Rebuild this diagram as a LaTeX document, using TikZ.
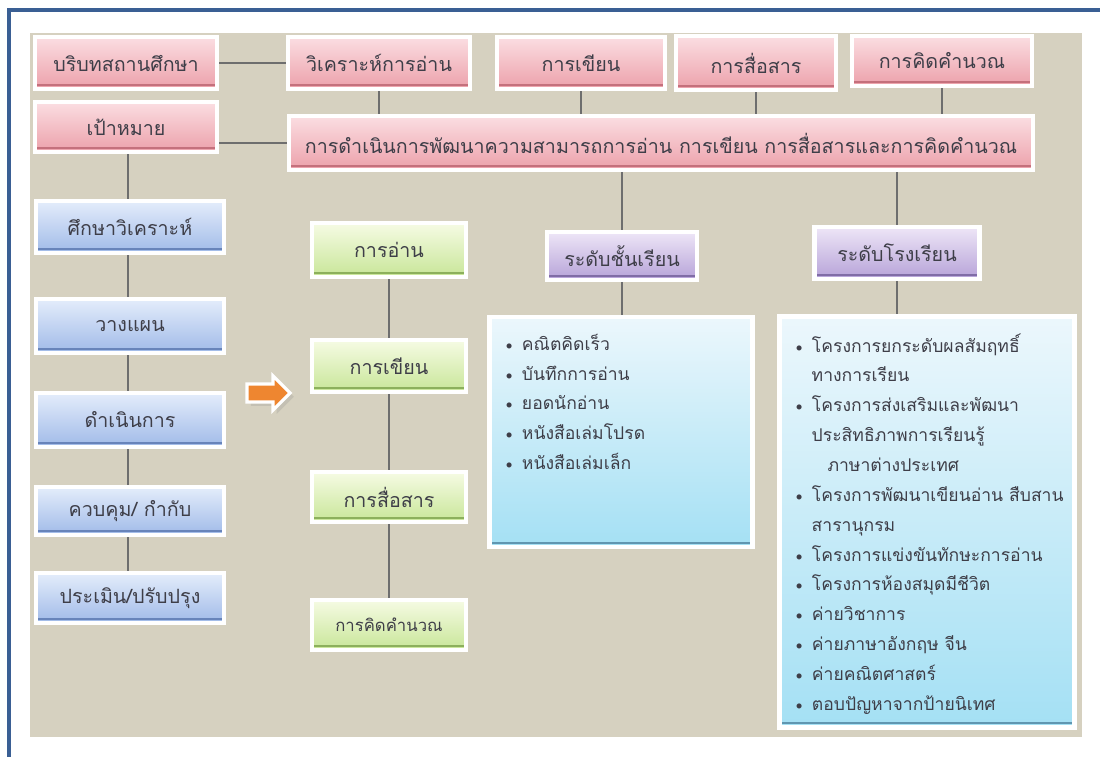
\documentclass[tikz,border=0pt]{standalone}
\usepackage{fontspec}
\newfontfamily\thaifont[Script=Thai]{Loma}
\usetikzlibrary{backgrounds,shadows,shapes.arrows,positioning}

\definecolor{pinkT}{RGB}{251,222,226}
\definecolor{pinkB}{RGB}{236,160,170}
\definecolor{pinkE}{RGB}{196,112,124}
\definecolor{blueT}{RGB}{228,237,251}
\definecolor{blueB}{RGB}{160,186,232}
\definecolor{blueE}{RGB}{104,132,186}
\definecolor{greenT}{RGB}{246,251,228}
\definecolor{greenB}{RGB}{200,230,152}
\definecolor{greenE}{RGB}{140,176,92}
\definecolor{purpT}{RGB}{238,230,247}
\definecolor{purpB}{RGB}{182,162,216}
\definecolor{purpE}{RGB}{128,108,166}
\definecolor{cyanT}{RGB}{236,247,252}
\definecolor{cyanB}{RGB}{164,224,244}
\definecolor{cyanE}{RGB}{96,150,176}
\definecolor{beige}{RGB}{214,209,192}
\definecolor{frameblue}{RGB}{58,95,148}
\definecolor{txtgray}{RGB}{62,62,72}
\definecolor{linkgray}{RGB}{110,110,110}
\definecolor{arrowor}{RGB}{238,134,48}

\newcommand\itm{{\rmfamily\textbullet}\ }

\begin{document}
\begin{tikzpicture}[x=0.02cm, y=-0.02cm,
    sz/.style 2 args={minimum width=#1*0.02cm, minimum height=#2*0.02cm},
    box/.style={draw=white, line width=2.8pt, inner sep=2pt, text=txtgray,
    font=\thaifont\fontsize{11.2}{13}\selectfont,
    drop shadow={opacity=0.3, shadow xshift=0.7pt, shadow yshift=-1pt}},
    edge/.style={path picture={\draw[#1, line width=1.2pt]
    ([yshift=2.4pt]path picture bounding box.south west) -- ([yshift=2.4pt]path picture bounding box.south east);}},
    pinkbox/.style={box, top color=pinkT, bottom color=pinkB, edge=pinkE},
    bluebox/.style={box, top color=blueT, bottom color=blueB, edge=blueE},
    greenbox/.style={box, top color=greenT, bottom color=greenB, edge=greenE},
    purpbox/.style={box, top color=purpT, bottom color=purpB, edge=purpE},
    cyanbox/.style={box, top color=cyanT, bottom color=cyanB, edge=cyanE},
    listtxt/.style={font=\thaifont\fontsize{10}{17}\selectfont, text=txtgray,
    align=left, inner sep=0pt, anchor=north west},
    link/.style={draw=linkgray, line width=0.6pt},
    bigarrow/.style={single arrow, draw=white, line width=1.8pt, fill=arrowor,
    inner xsep=0pt, inner ysep=0.15cm, single arrow head extend=0.16cm,
    minimum height=0.86cm, drop shadow={opacity=0.2}}]
    \useasboundingbox (0,0) rectangle (1100,757);

    % top row
    \node (ctx) [pinkbox, sz={182}{52}] at (126,63) {บริบทสถานศึกษา};
    \node (ana) [pinkbox, sz={182}{52}] at (379,63) {วิเคราะห์การอ่าน};
    \node (twri) [pinkbox, sz={168}{52}] at (581,63) {การเขียน};
    \node (tcom) [pinkbox, sz={160}{54}] at (756,63) {การสื่อสาร};
    \node (tcal) [pinkbox, sz={180}{50}] at (942,61) {การคิดคำนวณ};
    \node (goal) [pinkbox, sz={182}{50}] at (126,127) {เป้าหมาย};
    \node (act) [pinkbox, sz={744}{54}] at (661,143)
    {การดำเนินการพัฒนาความสามารถการอ่าน การเขียน การสื่อสารและการคิดคำนวณ};

    % steps
    \node (study) [bluebox, sz={188}{52}] at (130,227) {ศึกษาวิเคราะห์};
    \node (plan) [bluebox, sz={188}{54}] at (130,326) {วางแผน};
    \node (run) [bluebox, sz={188}{54}] at (130,420) {ดำเนินการ};
    \node (ctrl) [bluebox, sz={188}{48}] at (130,511) {ควบคุม/ กำกับ};
    \node (eval) [bluebox, sz={188}{50}] at (130,598) {ประเมิน/ปรับปรุง};

    \node (arr) [bigarrow] at (264,393) {};

    % skills
    \node (sread) [greenbox, sz={154}{54}] at (389,250) {การอ่าน};
    \node (swri) [greenbox, sz={154}{52}] at (389,366) {การเขียน};
    \node (scom) [greenbox, sz={154}{50}] at (389,497) {การสื่อสาร};
    \node (scal) [greenbox, sz={154}{50}, font=\thaifont\fontsize{9.5}{12}\selectfont] at (389,625) {การคิดคำนวณ};

    % levels
    \node (lvclass) [purpbox, sz={150}{48}] at (622,256) {ระดับชั้นเรียน};
    \node (lvschool) [purpbox, sz={165}{52}] at (897,253) {ระดับโรงเรียน};

    \node (list1) [cyanbox, sz={263}{230}] at (621,432) {};
    \node (list2) [cyanbox, sz={295}{411}] at (927,522) {};

    \node (list1txt) [listtxt] at ([xshift=0.3cm, yshift=-0.38cm]list1.north west) {
        \itm คณิตคิดเร็ว\\
        \itm บันทึกการอ่าน\\
        \itm ยอดนักอ่าน\\
        \itm หนังสือเล่มโปรด\\
        \itm หนังสือเล่มเล็ก
    };
    \node (list2txt) [listtxt] at ([xshift=0.3cm, yshift=-0.38cm]list2.north west) {
        \itm โครงการยกระดับผลสัมฤทธิ์\\
        \hspace*{1.1em}ทางการเรียน\\
        \itm โครงการส่งเสริมและพัฒนา\\
        \hspace*{1.1em}ประสิทธิภาพการเรียนรู้\\
        \hspace*{2em}ภาษาต่างประเทศ\\
        \itm โครงการพัฒนาเขียนอ่าน สืบสาน\\
        \hspace*{1.1em}สารานุกรม\\
        \itm โครงการแข่งขันทักษะการอ่าน\\
        \itm โครงการห้องสมุดมีชีวิต\\
        \itm ค่ายวิชาการ\\
        \itm ค่ายภาษาอังกฤษ จีน\\
        \itm ค่ายคณิตศาสตร์\\
        \itm ตอบปัญหาจากป้ายนิเทศ
    };

    \begin{scope}[on background layer]
        \fill[beige] (30,33) rectangle (1082,737);
        \draw[frameblue, line width=2.3pt] (9,757) -- (9,10) -- (1100,10);

        \draw[link] (ctx) -- (ana);
        \draw[link] (goal.east |- act.west) -- (act.west);
        \draw[link] (ana.south) -- (ana.south |- act.north);
        \draw[link] (twri.south) -- (twri.south |- act.north);
        \draw[link] (tcom.south) -- (tcom.south |- act.north);
        \draw[link] (tcal.south) -- (tcal.south |- act.north);
        \draw[link] (lvclass.north |- act.south) -- (lvclass.north);
        \draw[link] (lvschool.north |- act.south) -- (lvschool.north);
        \draw[link] (lvclass) -- (lvclass |- list1.north);
        \draw[link] (lvschool) -- (lvschool |- list2.north);
        \draw[link] ([xshift=0.04cm]goal.south) -- ([xshift=0.04cm]goal.south |- eval.north);
        \draw[link] (sread) -- (swri) -- (scom) -- (scal);
    \end{scope}
\end{tikzpicture}
\end{document}
